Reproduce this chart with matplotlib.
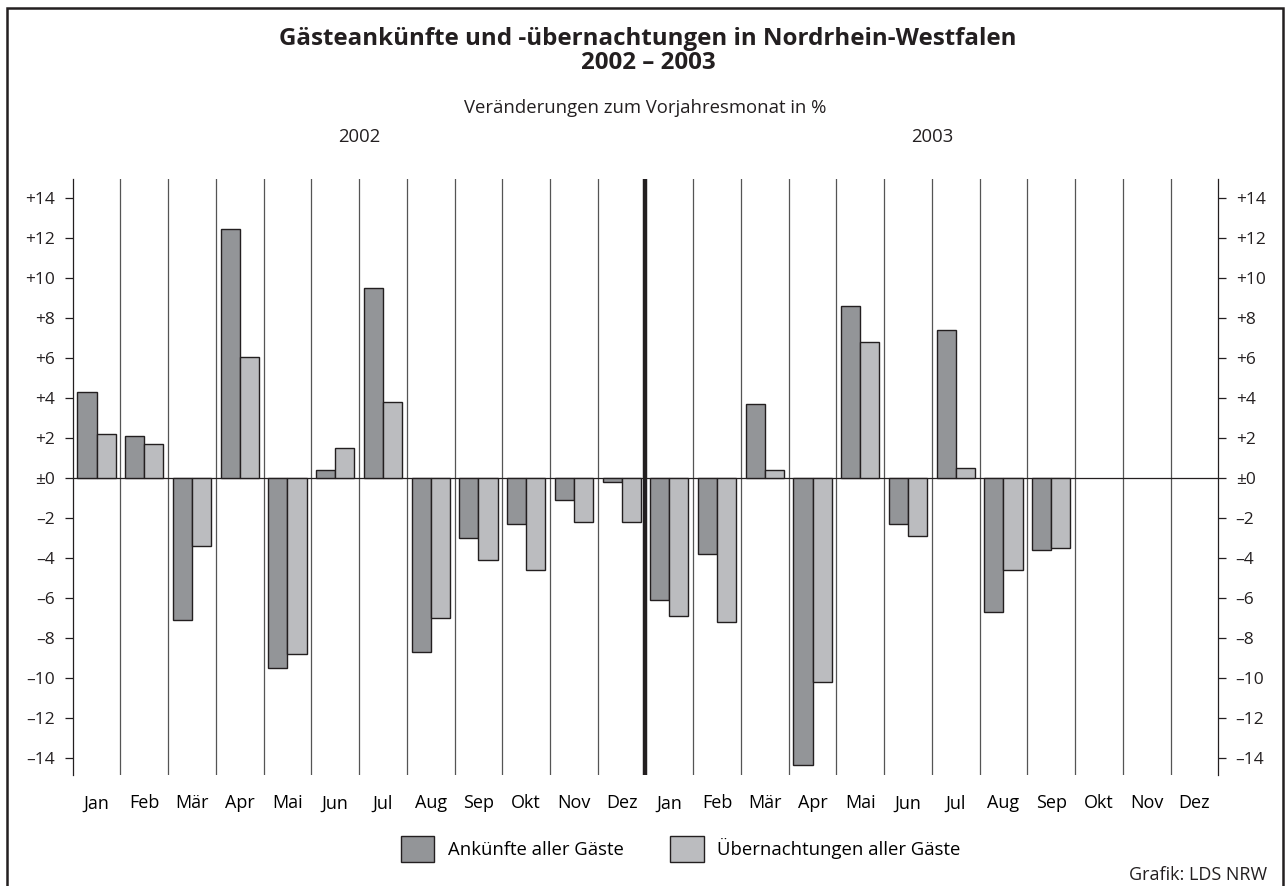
import matplotlib.pyplot as plt
import matplotlib.patches as mpatches
import numpy as np

plt.rcParams['font.family'] = ['Open Sans', 'DejaVu Sans']

# Werte (Veränderung zum Vorjahresmonat in %)
monate = ['Jan', 'Feb', 'Mär', 'Apr', 'Mai', 'Jun', 'Jul', 'Aug', 'Sep', 'Okt', 'Nov', 'Dez']
ankuenfte_2002 = [4.3, 2.1, -7.1, 12.45, -9.5, 0.4, 9.5, -8.7, -3.0, -2.3, -1.1, -0.2]
uebern_2002 = [2.2, 1.7, -3.4, 6.05, -8.8, 1.5, 3.8, -7.0, -4.1, -4.6, -2.2, -2.2]
ankuenfte_2003 = [-6.1, -3.8, 3.7, -14.35, 8.6, -2.3, 7.4, -6.7, -3.6]
uebern_2003 = [-6.9, -7.2, 0.4, -10.2, 6.8, -2.9, 0.5, -4.6, -3.5]
y_ticks = [-14, -12, -10, -8, -6, -4, -2, 0, 2, 4, 6, 8, 10, 12, 14]

W, H = 1285, 886
fig = plt.figure(figsize=(W / 100, H / 100), dpi=100)
ax = fig.add_axes([72.7 / W, 1 - 775 / H, (1218.3 - 72.7) / W, (775 - 179.3) / H])

dunkel = '#939598'
hell = '#bbbcbf'
kante = '#231f20'

ank = ankuenfte_2002 + ankuenfte_2003
ueb = uebern_2002 + uebern_2003
x = np.arange(len(ank))
ax.bar(x - 0.2, ank, width=0.4, color=dunkel, edgecolor=kante, linewidth=1, zorder=3)
ax.bar(x + 0.2, ueb, width=0.4, color=hell, edgecolor=kante, linewidth=1, zorder=3)

# Monatstrenner
for b in range(1, 24):
    if b == 12:
        ax.axvline(b - 0.5, color='#231f20', lw=3.2, zorder=4)
    else:
        ax.axvline(b - 0.5, color='#555555', lw=0.9, zorder=1)
ax.axhline(0, color='#231f20', lw=0.9, zorder=2)

ax.set_xlim(-0.5, 23.5)
ax.set_ylim(-14.875, 14.91)
ax.set_xticks(np.arange(24))
ax.set_xticklabels(monate * 2, fontsize=13)
ax.tick_params(axis='x', length=0, pad=14)

def fmt(v):
    if v == 0:
        return '±0'
    return f'+{v}' if v > 0 else f'–{abs(v)}'

ax.set_yticks(y_ticks)
ax.set_yticklabels([fmt(v) for v in y_ticks], fontsize=12.5)
ax.tick_params(axis='y', left=True, right=True, labelleft=True, labelright=True,
               direction='out', length=5.5, width=0.9, pad=7, colors='#231f20')
for s in ['top', 'bottom']:
    ax.spines[s].set_visible(False)
for s in ['left', 'right']:
    ax.spines[s].set_linewidth(0.9)
    ax.spines[s].set_color('#231f20')

# Texte
fig.text(648 / W, 1 - 39 / H, 'Gästeankünfte und -übernachtungen in Nordrhein-Westfalen',
         ha='center', va='center', fontsize=17.4, fontweight='bold', color='#231f20')
fig.text(648 / W, 1 - 63 / H, '2002 – 2003', ha='center', va='center', fontsize=17.4,
         fontweight='bold', color='#231f20')
fig.text(645 / W, 1 - 108 / H, 'Veränderungen zum Vorjahresmonat in %', ha='center',
         va='center', fontsize=13.3, color='#231f20')
fig.text(359 / W, 1 - 137 / H, '2002', ha='center', va='center', fontsize=13.3, color='#231f20')
fig.text(932 / W, 1 - 137 / H, '2003', ha='center', va='center', fontsize=13.3, color='#231f20')
fig.text(1267 / W, 1 - 875 / H, 'Grafik: LDS NRW', ha='right', va='center', fontsize=13,
         color='#231f20')

handles = [mpatches.Patch(facecolor=dunkel, edgecolor=kante, lw=1, label='Ankünfte aller Gäste'),
           mpatches.Patch(facecolor=hell, edgecolor=kante, lw=1, label='Übernachtungen aller Gäste')]
fig.legend(handles=handles, loc='center', bbox_to_anchor=(681 / W, 1 - 849 / H), ncol=2,
           frameon=False, fontsize=13.3, handlelength=1.8, handleheight=1.75,
           handletextpad=0.75, columnspacing=2.5)

# Rahmen
fig.add_artist(mpatches.Rectangle((7 / W, -0.05), (1283 - 7) / W, 1.05 - 8 / H,
                                  transform=fig.transFigure, fill=False, lw=1.8,
                                  edgecolor='#231f20'))

fig.savefig('out.png', dpi=100)
